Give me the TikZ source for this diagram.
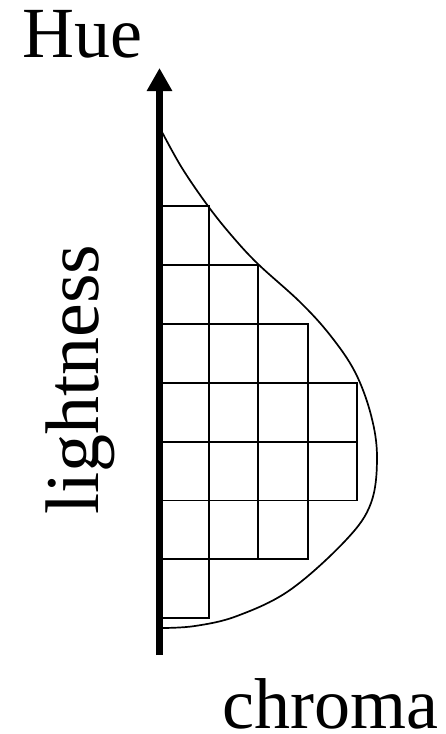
\documentclass[tikz,border=0pt]{standalone}
\usepackage{fontspec}
\setmainfont{Liberation Serif}
\usepackage{tikz}
\usetikzlibrary{arrows.meta, positioning, calc}

\begin{document}
\begin{tikzpicture}[
    x=1pt, y=-1pt,
    axis/.style={line width=7pt, -{Triangle[length=23pt, width=24pt]}},
    cell/.style={draw, line width=1.9pt},
    gamut/.style={line width=1.7pt},
    label/.style={inner sep=0pt, font=\fontsize{72}{80}\selectfont}
]
    \useasboundingbox (0,0) rectangle (445,734);

    % colour cells, one row per lightness step
    \foreach \n [count=\r] in {1,2,3,4,4,3,1} {
        \foreach \c in {1,...,\n} {
            \draw[cell] ({159.5+(\c-1)*49.4},{206+(\r-1)*58.9}) rectangle ++(49.4,58.9);
        }
    }

    % gamut boundary
    \draw[gamut] plot[smooth, tension=0.6] coordinates {
        (162,132) (182,168) (208,206) (232,236) (258,264) (300,302) (330,335)
        (355,372) (371,415) (377,457) (371,503) (346,540) (290,590)
        (237,616) (195,626) (162,628)};

    \coordinate (origin) at (159.5,655);
    \coordinate (top) at (159.5,68);
    \draw[axis] (origin) -- (top);

    \node[label, anchor=base west] (hue) at (22,57) {Hue};
    \node[label, anchor=base west, rotate=90, font=\fontsize{76}{84}\selectfont] (light) at (98,515) {lightness};
    \node[label, anchor=base west, text depth=0pt] (chroma) at (222,728) {chroma};
\end{tikzpicture}
\end{document}
